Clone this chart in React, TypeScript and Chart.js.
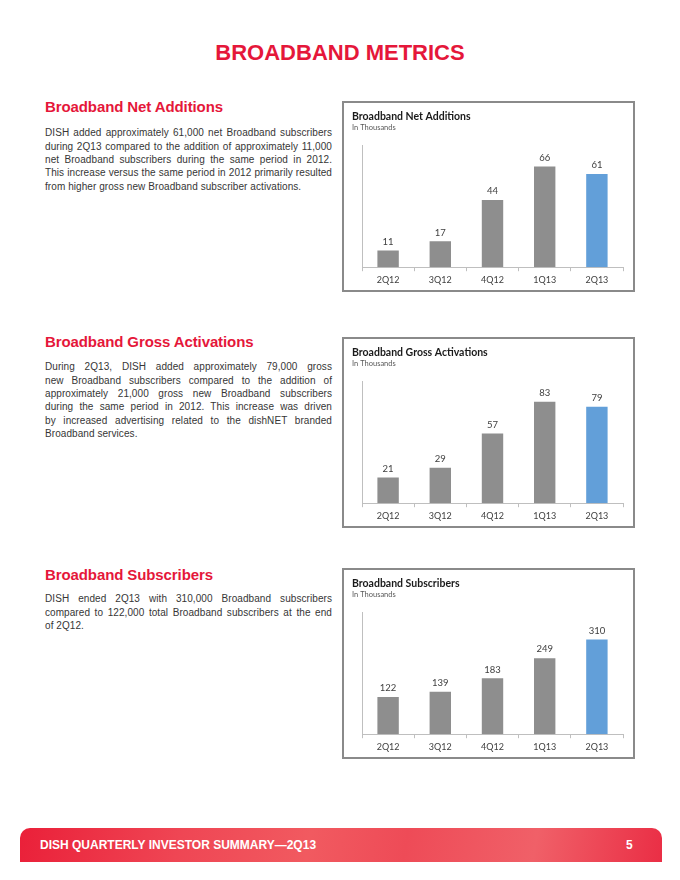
import React, { useEffect, useRef } from "react";
import { Chart, registerables } from "chart.js";

Chart.register(...registerables);

const categories = ["2Q12", "3Q12", "4Q12", "1Q13", "2Q13"];
const netAdditions = [11, 17, 44, 66, 61];
const grossActivations = [21, 29, 57, 83, 79];
const subscribers = [122, 139, 183, 249, 310];

const RED = "#e5173a";
const GRAY_BAR = "#8e8e8e";
const BLUE_BAR = "#629fd9";
const CHART_FONT = "Lato, 'Open Sans', sans-serif";

const overlayPlugin = {
  id: "overlay",
  afterDatasetsDraw(chart: any) {
    const ctx = chart.ctx;
    const meta = chart.getDatasetMeta(0);
    const data = chart.data.datasets[0].data;
    ctx.save();
    ctx.fillStyle = "#404040";
    ctx.font = `9.5px ${CHART_FONT}`;
    ctx.textAlign = "center";
    ctx.textBaseline = "bottom";
    meta.data.forEach((bar: any, i: number) => {
      ctx.fillText(String(data[i]), bar.x, bar.y - 4);
    });
    ctx.restore();
  },
  afterDraw(chart: any) {
    const ctx = chart.ctx;
    const opts = chart.options.plugins.overlay;
    const area = chart.chartArea;
    ctx.save();
    ctx.strokeStyle = "#bfbfbf";
    ctx.lineWidth = 1;
    ctx.beginPath();
    ctx.moveTo(Math.round(area.left) + 0.5, area.top);
    ctx.lineTo(Math.round(area.left) + 0.5, area.bottom);
    ctx.stroke();
    ctx.textAlign = "left";
    ctx.textBaseline = "alphabetic";
    ctx.fillStyle = "#1a1a1a";
    ctx.font = `bold 10.5px ${CHART_FONT}`;
    ctx.fillText(opts.title, 8, 17);
    ctx.fillStyle = "#595959";
    ctx.font = `7.5px ${CHART_FONT}`;
    ctx.fillText(opts.subtitle, 8, 26.5);
    ctx.restore();
  },
};

function BarBox(props: { title: string; values: number[]; max: number; top: number }) {
  const ref = useRef<HTMLCanvasElement | null>(null);
  useEffect(() => {
    if (!ref.current) return;
    const colors = props.values.map((_, i) => (i === props.values.length - 1 ? BLUE_BAR : GRAY_BAR));
    const chart = new Chart(ref.current, {
      type: "bar",
      data: {
        labels: categories,
        datasets: [
          {
            data: props.values,
            backgroundColor: colors,
            categoryPercentage: 1,
            barPercentage: 0.41,
          },
        ],
      },
      options: {
        animation: false,
        responsive: false,
        maintainAspectRatio: false,
        layout: { padding: { top: 42, left: 18, right: 10, bottom: 2 } },
        plugins: {
          legend: { display: false },
          tooltip: { enabled: false },
          title: { display: false },
          overlay: { title: props.title, subtitle: "In Thousands" },
        } as any,
        scales: {
          x: {
            grid: {
              display: true,
              drawOnChartArea: false,
              drawTicks: true,
              tickLength: 4,
              color: "#bfbfbf",
              offset: true,
            },
            border: { display: true, color: "#bfbfbf" },
            ticks: {
              color: "#404040",
              font: { size: 9, family: CHART_FONT },
              padding: 3,
            },
          },
          y: {
            display: false,
            min: 0,
            max: props.max,
          },
        },
      },
      plugins: [overlayPlugin],
    });
    return () => chart.destroy();
  }, []);
  return (
    <div
      style={{
        position: "absolute",
        left: 342,
        top: props.top,
        width: 289,
        height: 187,
        border: "2px solid #8a8a8a",
        background: "#fff",
      }}
    >
      <canvas ref={ref} width={289} height={187} style={{ display: "block" }} />
    </div>
  );
}

const bodyFont = "'Liberation Sans', Arial, sans-serif";

function Section(props: { heading: string; headingY: number; lines: string[]; firstLineY: number }) {
  return (
    <>
      <div
        style={{
          position: "absolute",
          left: 45,
          top: props.headingY - 10,
          lineHeight: "20px",
          fontFamily: bodyFont,
          fontWeight: "bold",
          fontSize: 15,
          letterSpacing: -0.1,
          color: RED,
          whiteSpace: "nowrap",
        }}
      >
        {props.heading}
      </div>
      {props.lines.map((line, i) => (
        <div
          key={i}
          style={{
            position: "absolute",
            left: 45,
            top: props.firstLineY - 6.7 + i * 13.35,
            width: 287,
            lineHeight: "13.4px",
            fontFamily: bodyFont,
            fontSize: 10,
            letterSpacing: 0.07,
            color: "#363636",
            textAlign: i === props.lines.length - 1 ? "left" : "justify",
            textAlignLast: i === props.lines.length - 1 ? "left" : "justify",
            whiteSpace: "nowrap",
          } as any}
        >
          {line}
        </div>
      ))}
    </>
  );
}

export default function App() {
  return (
    <div style={{ position: "absolute", left: 0, top: 0, width: 680, height: 880, background: "#fff" }}>
      <div
        style={{
          position: "absolute",
          left: 0,
          width: 680,
          top: 40,
          lineHeight: "26px",
          textAlign: "center",
          fontFamily: bodyFont,
          fontWeight: "bold",
          fontSize: 22,
          color: RED,
        }}
      >
        BROADBAND METRICS
      </div>

      <Section
        heading="Broadband Net Additions"
        headingY={107}
        firstLineY={133}
        lines={[
          "DISH added approximately 61,000 net Broadband subscribers",
          "during 2Q13 compared to the addition of approximately 11,000",
          "net Broadband subscribers during the same period in 2012.",
          "This increase versus the same period in 2012 primarily resulted",
          "from higher gross new Broadband subscriber activations.",
        ]}
      />
      <Section
        heading="Broadband Gross Activations"
        headingY={342}
        firstLineY={367}
        lines={[
          "During 2Q13, DISH added approximately 79,000 gross",
          "new Broadband subscribers compared to the addition of",
          "approximately 21,000 gross new Broadband subscribers",
          "during the same period in 2012. This increase was driven",
          "by increased advertising related to the dishNET branded",
          "Broadband services.",
        ]}
      />
      <Section
        heading="Broadband Subscribers"
        headingY={575}
        firstLineY={599}
        lines={[
          "DISH ended 2Q13 with 310,000 Broadband subscribers",
          "compared to 122,000 total Broadband subscribers at the end",
          "of 2Q12.",
        ]}
      />

      <BarBox title="Broadband Net Additions" values={netAdditions} max={80} top={101} />
      <BarBox title="Broadband Gross Activations" values={grossActivations} max={100} top={337} />
      <BarBox title="Broadband Subscribers" values={subscribers} max={400} top={568} />

      <div
        style={{
          position: "absolute",
          left: 20,
          top: 828,
          width: 642,
          height: 34,
          borderRadius: "10px 10px 0 0",
          background:
            "linear-gradient(100deg, #ea2039 0%, #ef4654 25%, #f15a60 45%, #ee4b57 60%, #f06068 80%, #ea2e45 100%)",
        }}
      >
        <div
          style={{
            position: "absolute",
            left: 20,
            top: 0,
            lineHeight: "34px",
            fontFamily: bodyFont,
            fontWeight: "bold",
            fontSize: 12,
            color: "#fff",
            whiteSpace: "nowrap",
          }}
        >
          DISH QUARTERLY INVESTOR SUMMARY—2Q13
        </div>
        <div
          style={{
            position: "absolute",
            left: 606,
            top: 0,
            lineHeight: "34px",
            fontFamily: bodyFont,
            fontWeight: "bold",
            fontSize: 12,
            color: "#fff",
          }}
        >
          5
        </div>
      </div>
    </div>
  );
}
